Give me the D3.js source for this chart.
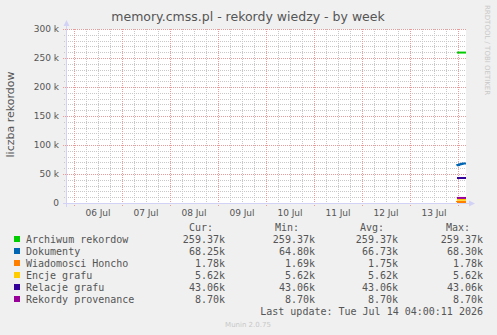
<!DOCTYPE html>
<html>
<head>
<meta charset="UTF-8">
<title>memory.cmss.pl - rekordy wiedzy - by week</title>
<script src="https://cdn.jsdelivr.net/npm/d3@7"></script>
<style>
	body { margin: 0; background: #f0f0f0; }
	svg { display: block; }
</style>
</head>
<body>
<div id="chart"></div>
<script>
// sample times (UTC, 30 min steps) and values in thousands
const times = ["2026-07-13T23:30:00Z", "2026-07-14T00:00:00Z", "2026-07-14T00:30:00Z", "2026-07-14T01:00:00Z",
	"2026-07-14T01:30:00Z", "2026-07-14T02:00:00Z", "2026-07-14T02:30:00Z", "2026-07-14T03:00:00Z",
	"2026-07-14T03:30:00Z", "2026-07-14T04:00:00Z"];
const archiwum = [259.37, 259.37, 259.37, 259.37, 259.37, 259.37, 259.37, 259.37, 259.37, 259.37];
const dokumenty = [64.80, 65.10, 65.60, 66.20, 66.70, 67.10, 67.50, 67.90, 68.30, 68.25];
const wiadomosci = [1.69, 1.71, 1.73, 1.74, 1.75, 1.76, 1.77, 1.77, 1.78, 1.78];
const encje = [5.62, 5.62, 5.62, 5.62, 5.62, 5.62, 5.62, 5.62, 5.62, 5.62];
const relacje = [43.06, 43.06, 43.06, 43.06, 43.06, 43.06, 43.06, 43.06, 43.06, 43.06];
const provenance = [8.70, 8.70, 8.70, 8.70, 8.70, 8.70, 8.70, 8.70, 8.70, 8.70];

const seriesNames = ["Archiwum rekordow", "Dokumenty", "Wiadomosci Honcho", "Encje grafu", "Relacje grafu", "Rekordy provenance"];
const seriesColors = ["#00cc00", "#0066b3", "#ff8000", "#ffcc00", "#330099", "#990099"];
const curLabels = ["259.37k", "68.25k", "1.78k", "5.62k", "43.06k", "8.70k"];
const minLabels = ["259.37k", "64.80k", "1.69k", "5.62k", "43.06k", "8.70k"];
const avgLabels = ["259.37k", "66.73k", "1.75k", "5.62k", "43.06k", "8.70k"];
const maxLabels = ["259.37k", "68.30k", "1.78k", "5.62k", "43.06k", "8.70k"];
const yTicks = [0, 50, 100, 150, 200, 250, 300];
const lastUpdate = "Last update: Tue Jul 14 04:00:11 2026";

const w = 497;
const h = 335;
const plotLeft = 66, plotRight = 466, plotTop = 29, plotBottom = 203;
const sans = "'DejaVu Sans', sans-serif";
const mono = "'DejaVu Sans Mono', monospace";
const startTime = new Date("2026-07-05T20:00:00Z");
const endTime = new Date("2026-07-14T04:00:00Z");

const svg = d3.select("#chart").append("svg").attr("width", w).attr("height", h);

const xScale = d3.scaleUtc().domain([startTime, endTime]).range([plotLeft, plotRight]);
const yScale = d3.scaleLinear().domain([0, 300]).range([plotBottom, plotTop]);

svg.append("rect").attr("x", plotLeft).attr("y", plotTop)
	.attr("width", plotRight - plotLeft).attr("height", plotBottom - plotTop).attr("fill", "#fff");

// minor grid
const hours6 = d3.utcHour.every(6).range(startTime, new Date(+endTime + 1000));
svg.append("g").selectAll("line").data(hours6.filter(d => d.getUTCHours() !== 0)).join("line")
	.attr("x1", d => Math.round(xScale(d)) + 0.5).attr("x2", d => Math.round(xScale(d)) + 0.5)
	.attr("y1", plotTop).attr("y2", plotBottom + 2)
	.attr("stroke", "#c8c8c8").attr("stroke-dasharray", "1,1");
svg.append("g").selectAll("line").data(d3.range(0, 301, 10).filter(v => v % 50 !== 0)).join("line")
	.attr("x1", plotLeft - 2).attr("x2", plotRight)
	.attr("y1", d => Math.round(yScale(d)) + 0.5).attr("y2", d => Math.round(yScale(d)) + 0.5)
	.attr("stroke", "#c8c8c8").attr("stroke-dasharray", "1,1");

// major grid
const days = d3.utcDay.range(startTime, endTime);
svg.append("g").selectAll("line").data(days).join("line")
	.attr("x1", d => Math.round(xScale(d)) + 0.5).attr("x2", d => Math.round(xScale(d)) + 0.5)
	.attr("y1", plotTop).attr("y2", plotBottom + 3)
	.attr("stroke", "#eb9a9a").attr("stroke-dasharray", "1,1");
svg.append("g").selectAll("line").data(yTicks).join("line")
	.attr("x1", plotLeft - 3).attr("x2", plotRight)
	.attr("y1", d => Math.round(yScale(d)) + 0.5).attr("y2", d => Math.round(yScale(d)) + 0.5)
	.attr("stroke", "#eb9a9a").attr("stroke-dasharray", "1,1");

// tick labels
svg.append("g").selectAll("text").data(yTicks).join("text")
	.attr("x", plotLeft - 7).attr("y", d => yScale(d) + 3)
	.attr("text-anchor", "end")
	.style("font", `9px ${sans}`).attr("fill", "#555")
	.text(d => d === 0 ? "0" : d + " k");
const labelDays = days.filter(d => d3.utcHour.offset(d, 12) < endTime);
svg.append("g").selectAll("text").data(labelDays).join("text")
	.attr("x", d => xScale(d3.utcHour.offset(d, 12))).attr("y", 216)
	.attr("text-anchor", "middle")
	.style("font", `9px ${sans}`).attr("fill", "#555")
	.text(d => d3.utcFormat("%d %b")(d));

// axes with arrows
const axisColor = "#d2d2f6";
svg.append("line").attr("x1", plotLeft + 0.5).attr("x2", plotLeft + 0.5)
	.attr("y1", plotBottom + 4).attr("y2", plotTop - 4).attr("stroke", axisColor);
svg.append("line").attr("x1", plotLeft - 3).attr("x2", plotRight + 4)
	.attr("y1", plotBottom + 0.5).attr("y2", plotBottom + 0.5).attr("stroke", axisColor);
svg.append("path").attr("d", `M${plotLeft - 2.5},${plotTop - 3}L${plotLeft + 3.5},${plotTop - 3}L${plotLeft + 0.5},${plotTop - 9}Z`).attr("fill", axisColor);
svg.append("path").attr("d", `M${plotRight + 3},${plotBottom - 2.5}L${plotRight + 3},${plotBottom + 3.5}L${plotRight + 9},${plotBottom + 0.5}Z`).attr("fill", axisColor);

// data lines
const allSeries = [archiwum, dokumenty, wiadomosci, encje, relacje, provenance];
const line = d3.line().x((d, i) => xScale(new Date(times[i]))).y(d => yScale(d)).curve(d3.curveStepBefore);
svg.append("g").selectAll("path").data(allSeries).join("path")
	.attr("d", d => line(d))
	.attr("fill", "none")
	.attr("stroke", (d, i) => seriesColors[i])
	.attr("stroke-width", 2);

// title and labels
svg.append("text").attr("x", 248).attr("y", 21).attr("text-anchor", "middle")
	.style("font", `12.5px ${sans}`).attr("fill", "#555")
	.text("memory.cmss.pl - rekordy wiedzy - by week");
svg.append("text").attr("transform", "translate(14, 114.5) rotate(-90)")
	.attr("text-anchor", "middle")
	.style("font", `11px ${sans}`).attr("fill", "#555")
	.text("liczba rekordow");
svg.append("text").attr("transform", "translate(485, 5) rotate(90)")
	.style("font", `7px ${sans}`).attr("fill", "#c8c8c8")
	.text("RRDTOOL / TOBI OETIKER");

// legend
const headers = [["Cur:", 213], ["Min:", 299], ["Avg:", 384], ["Max:", 470]];
svg.append("g").selectAll("text").data(headers).join("text")
	.attr("x", d => d[1]).attr("y", 231).attr("text-anchor", "end")
	.style("font", `10px ${mono}`).attr("fill", "#555")
	.text(d => d[0]);

const rows = svg.append("g").selectAll("g").data(seriesNames).join("g")
	.attr("transform", (d, i) => `translate(0, ${243 + i * 12})`);
rows.append("rect").attr("x", 14).attr("y", -7).attr("width", 6).attr("height", 6)
	.attr("fill", (d, i) => seriesColors[i]);
rows.append("text").attr("x", 26).style("font", `10px ${mono}`).attr("fill", "#555").text(d => d);
[[curLabels, 225], [minLabels, 315], [avgLabels, 398], [maxLabels, 483]].forEach(([labels, x]) => {
	rows.append("text").attr("x", x).attr("text-anchor", "end")
		.style("font", `10px ${mono}`).attr("fill", "#555")
		.text((d, i) => labels[i]);
});
svg.append("text").attr("x", 483).attr("y", 315).attr("text-anchor", "end")
	.style("font", `10px ${mono}`).attr("fill", "#555")
	.text(lastUpdate);
svg.append("text").attr("x", 248).attr("y", 327).attr("text-anchor", "middle")
	.style("font", `7px ${sans}`).attr("fill", "#c8c8c8")
	.text("Munin 2.0.75");
</script>
</body>
</html>
